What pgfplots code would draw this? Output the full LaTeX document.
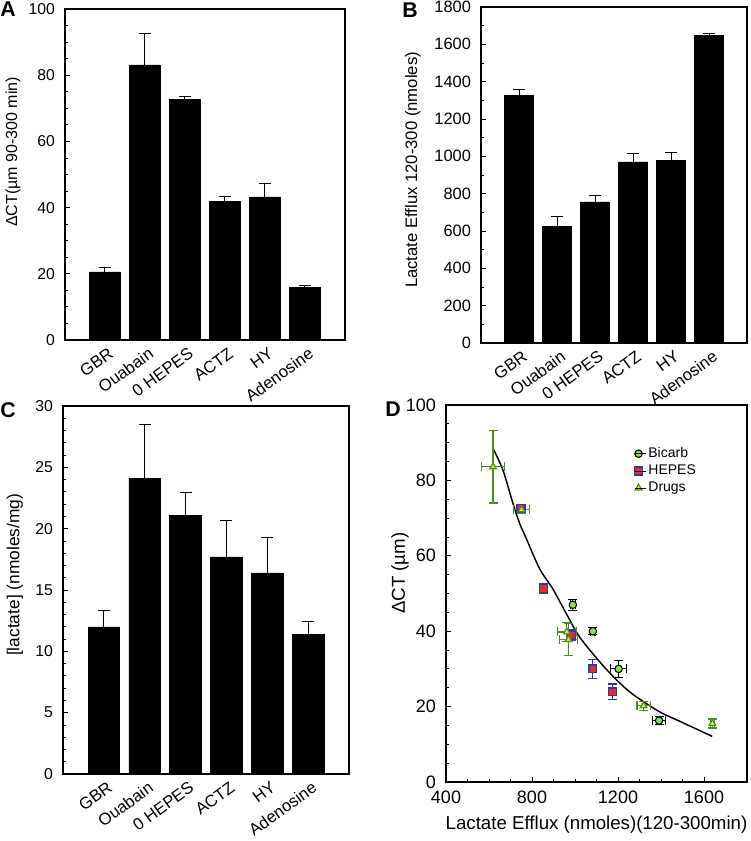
\documentclass[border=0pt]{standalone}
\usepackage{fontspec}
\setmainfont{Liberation Sans}
\usepackage{pgfplots}
\usepackage{pgfplotstable}
\pgfplotsset{compat=1.18}

\definecolor{drugG}{HTML}{4E8A2C}
\definecolor{drugY}{HTML}{E6EE10}
\definecolor{bicG}{HTML}{86E44A}
\definecolor{hepB}{HTML}{3535A5}
\definecolor{hepR}{HTML}{DD3322}

\pgfplotstableread{
x y e
0 20.6 1.4
1 83.1 9.4
2 72.7 1.0
3 41.9 1.4
4 43.2 4.1
5 15.9 0.5
}\tabA
\pgfplotstableread{
x y e
0 1328 30
1 624 52
2 756 32
3 970 43
4 977 41
5 1647 11
}\tabB
\pgfplotstableread{
x y e
0 12.0 1.3
1 24.1 4.4
2 21.1 1.85
3 17.7 3.0
4 16.4 2.9
5 11.4 1.0
}\tabC
\pgfplotstableread{
x y ex ey
990 47.0 12 1.4
1083 40.0 10 1.0
1203 30.0 38 2.3
1391 16.3 31 1.0
}\tabBic
\pgfplotstableread{
x y ex ey
750 72.6 20 1.0
854 51.3 10 1.2
985 39.0 15 1.5
1083 30.0 8 2.5
1174 23.9 8 2.1
}\tabHep
\pgfplotstableread{
x y ex ey
619 83.6 54 9.6
751 72.2 38 1.0
962 39.8 45 2.5
970 37.8 42 4.2
1319 20.2 31 1.2
1639 15.5 10 1.2
}\tabDrug

\pgfplotsset{
  panel/.style={scale only axis, anchor=south west,
    axis line style={line width=0.8pt},
    tick style={line width=0.6pt, black},
    tick align=inside, ytick pos=left, xtick pos=bottom,
    /pgf/number format/assume math mode=true,
    /pgf/number format/1000 sep={},
    scaled y ticks=false, scaled x ticks=false,
    major tick length=3.75pt, minor tick length=1.9pt,
    yticklabel style={xshift=-4pt},
  },
  barpanel/.style={panel, ybar, bar width=0.775, xmin=-1, xmax=6, ymin=0,
    xtick={0,...,5},
    xticklabels={GBR,Ouabain,0 HEPES,ACTZ,HY,Adenosine},
    xticklabel style={rotate=36, anchor=north east, inner sep=1pt,
      font=\fontsize{12.5}{14}\selectfont, xshift=2pt, yshift=-1pt},
    major x tick style={draw=none},
  },
  barplot/.style={fill=black, draw=black,
    error bars/.cd, y dir=plus, y explicit,
    error bar style={line width=0.75pt, black},
    error mark options={rotate=90, line width=0.75pt, mark size=4.5pt, black}},
}

\begin{document}
\begin{tikzpicture}
\useasboundingbox (0,0) rectangle (562.5pt,630.75pt);

% Panel A
\begin{axis}[barpanel, at={(48.75pt,375.75pt)}, width=210pt, height=248.25pt,
  ymax=100, ytick={0,20,...,100}, minor y tick num=3,
  yticklabel style={font=\fontsize{11.8}{13}\selectfont},
  ylabel={ΔCT(µm 90-300 min)},
  ylabel style={font=\fontsize{12}{14}\selectfont, at={(axis description cs:-0.186,0.568)}, anchor=center}]
\addplot[barplot] table[x=x, y=y, y error=e] {\tabA};
\end{axis}

% Panel B
\begin{axis}[barpanel, at={(360.75pt,373.5pt)}, width=199.5pt, height=252pt,
  ymax=1800, ytick={0,200,...,1800}, minor y tick num=1,
  yticklabel style={font=\fontsize{12.3}{14}\selectfont},
  ylabel={Lactate Efflux 120-300 (nmoles)},
  ylabel style={font=\fontsize{12.5}{14}\selectfont, at={(axis description cs:-0.256,0.515)}, anchor=center}]
\addplot[barplot] table[x=x, y=y, y error=e] {\tabB};
\end{axis}

% Panel C
\begin{axis}[barpanel, at={(47.25pt,50.25pt)}, width=214.5pt, height=276pt,
  ymax=30, ytick={0,5,...,30}, minor y tick num=4,
  yticklabel style={font=\fontsize{11.8}{13}\selectfont},
  ylabel={[lactate] (nmoles/mg)},
  ylabel style={font=\fontsize{13}{15}\selectfont, at={(axis description cs:-0.168,0.541)}, anchor=center}]
\addplot[barplot] table[x=x, y=y, y error=e] {\tabC};
\end{axis}

% Panel D
\begin{axis}[panel, at={(334.5pt,44.25pt)}, width=225.75pt, height=282.75pt,
  xmin=400, xmax=1800, ymin=0, ymax=100,
  xtick={400,800,1200,1600}, minor x tick num=3,
  ytick={0,20,...,100}, minor y tick num=3,
  xticklabel style={yshift=-3pt},
  tick label style={font=\fontsize{13.5}{15}\selectfont},
  xlabel={Lactate Efflux (nmoles)(120-300min)},
  ylabel={ΔCT (µm)},
  label style={font=\fontsize{14}{16}\selectfont},
  ylabel style={at={(axis description cs:-0.153,0.554)}, anchor=center},
  xlabel style={at={(axis description cs:0.5,-0.114)}, anchor=center},
  legend image code/.code={\draw[#1] plot coordinates {(0.1cm,0cm)}; \path (0cm,0cm) -- (0.3cm,0cm);},
  legend style={draw=none, fill=none, at={(rel axis cs:0.612,0.9)}, anchor=north west,
    font=\fontsize{10.5}{12}\selectfont, row sep=1pt,
    nodes={inner sep=1.5pt}},
  legend cell align=left]
\addplot[black, line width=1.1pt, smooth, forget plot] coordinates {
(622,88.1) (665,82.7) (712,73.8) (743,68.5) (774,64.5) (835,56.6)
(897,51.2) (959,44.7) (1021,38.5) (1113,32.0) (1191,27.2) (1268,23.3)
(1391,18.7) (1499,15.8) (1638,12.1)};
\addplot[only marks, mark=*, mark size=2.8pt, mark options={fill=bicG, draw=black, line width=0.8pt},
  error bars/.cd, x dir=both, x explicit, y dir=both, y explicit,
  error bar style={line width=0.8pt, black},
  error mark options={rotate=90, line width=0.8pt, mark size=3.4pt, black}]
  table[x=x, y=y, x error=ex, y error=ey] {\tabBic};
\addlegendentry{Bicarb}
\addplot[only marks, mark=square*, mark size=2.9pt, mark options={fill=hepR, draw=hepB, line width=1.1pt},
  error bars/.cd, x dir=both, x explicit, y dir=both, y explicit,
  error bar style={line width=0.9pt, hepB},
  error mark options={rotate=90, line width=0.9pt, mark size=3.4pt, hepB}]
  table[x=x, y=y, x error=ex, y error=ey] {\tabHep};
\addlegendentry{HEPES}
\addplot[only marks, mark=triangle*, mark size=2.9pt, mark options={fill=drugY, draw=drugG, line width=0.9pt},
  error bars/.cd, x dir=both, x explicit, y dir=both, y explicit,
  error bar style={line width=0.9pt, drugG},
  error mark options={rotate=90, line width=0.9pt, mark size=3.4pt, drugG}]
  table[x=x, y=y, x error=ex, y error=ey] {\tabDrug};
\addlegendentry{Drugs}
\end{axis}

\node[anchor=north west, inner sep=0pt, font=\fontsize{16}{18}\selectfont\bfseries] at (0pt,629.5pt) {A};
\node[anchor=north west, inner sep=0pt, font=\fontsize{16}{18}\selectfont\bfseries] at (301.5pt,629pt) {B};
\node[anchor=north west, inner sep=0pt, font=\fontsize{16}{18}\selectfont\bfseries] at (0pt,329pt) {C};
\node[anchor=north west, inner sep=0pt, font=\fontsize{16}{18}\selectfont\bfseries] at (288.75pt,329.5pt) {D};
\end{tikzpicture}
\end{document}
